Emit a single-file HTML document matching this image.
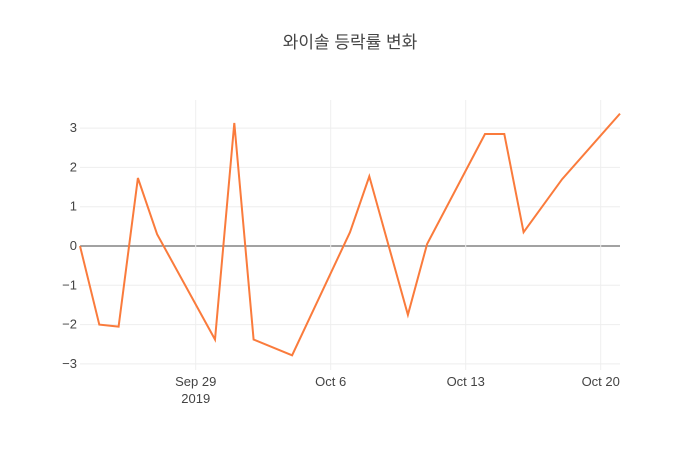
<!DOCTYPE html>
<html><head><meta charset="utf-8"><style>
body{margin:0;background:#fff;}
svg text{font-family:"Liberation Sans","Noto Sans CJK KR",sans-serif;fill:#444;}
</style></head><body>
<svg width="700" height="450" xmlns="http://www.w3.org/2000/svg">
<g id="grid"></g>
<g id="ticks"></g>
<path id="line" fill="none" stroke="#fa7b3c" stroke-width="2"/>
<text x="350" y="48" text-anchor="middle" font-size="17" style="fill:#444">와이솔 등락률 변화</text>
</svg>
<script>
const dates=["2019-09-23","2019-09-24","2019-09-25","2019-09-26","2019-09-27","2019-09-30","2019-10-01","2019-10-02","2019-10-04","2019-10-07","2019-10-08","2019-10-10","2019-10-11","2019-10-14","2019-10-15","2019-10-16","2019-10-18","2019-10-21"];
const values=[0.0,-2.0,-2.05,1.73,0.3,-2.38,3.13,-2.38,-2.78,0.35,1.77,-1.75,0.05,2.85,2.85,0.35,1.7,3.37];
const yTicks=[-3,-2,-1,0,1,2,3];
const xTicks=["2019-09-29","2019-10-06","2019-10-13","2019-10-20"];
const xTickLabels=["Sep 29","Oct 6","Oct 13","Oct 20"];
const ns="http://www.w3.org/2000/svg";
const L=80,R=620,T=100,B=370;
const d0=Date.parse("2019-09-23"),d1=Date.parse("2019-10-21");
const y0=-3.155,y1=3.715;
function X(d){return L+(Date.parse(d)-d0)/(d1-d0)*(R-L);}
function Y(v){return B-(v-y0)/(y1-y0)*(B-T);}
const grid=document.getElementById('grid'),ticks=document.getElementById('ticks');
function mk(tag,attrs,parent){const e=document.createElementNS(ns,tag);for(const k in attrs)e.setAttribute(k,attrs[k]);parent.appendChild(e);return e;}
yTicks.forEach(v=>{
  const l=mk('line',{x1:L,x2:R,y1:Y(v),y2:Y(v),stroke:v===0?'#444':'#eee','stroke-width':1},grid);
  
  
  const t=mk('text',{x:L-3,y:Y(v)+4,'text-anchor':'end','font-size':13},ticks);
  
  
  t.textContent=v<0?'\u2212'+Math.abs(v):String(v);
});
xTicks.forEach((d,i)=>{
  const l=mk('line',{x1:X(d),x2:X(d),y1:T,y2:B,stroke:'#eee','stroke-width':1},grid);
  
  
  const t=mk('text',{x:X(d),y:B+16,'text-anchor':'middle','font-size':13},ticks);
  
  
  t.textContent=xTickLabels[i];
  if(i===0){const t2=mk('text',{x:X(d),y:B+33,'text-anchor':'middle','font-size':13},ticks);
  
  
  t2.textContent='2019';}
});
document.getElementById('line').setAttribute('d',dates.map((d,i)=>(i?'L':'M')+X(d).toFixed(1)+','+Y(values[i]).toFixed(1)).join(''));
</script>
</body></html>
